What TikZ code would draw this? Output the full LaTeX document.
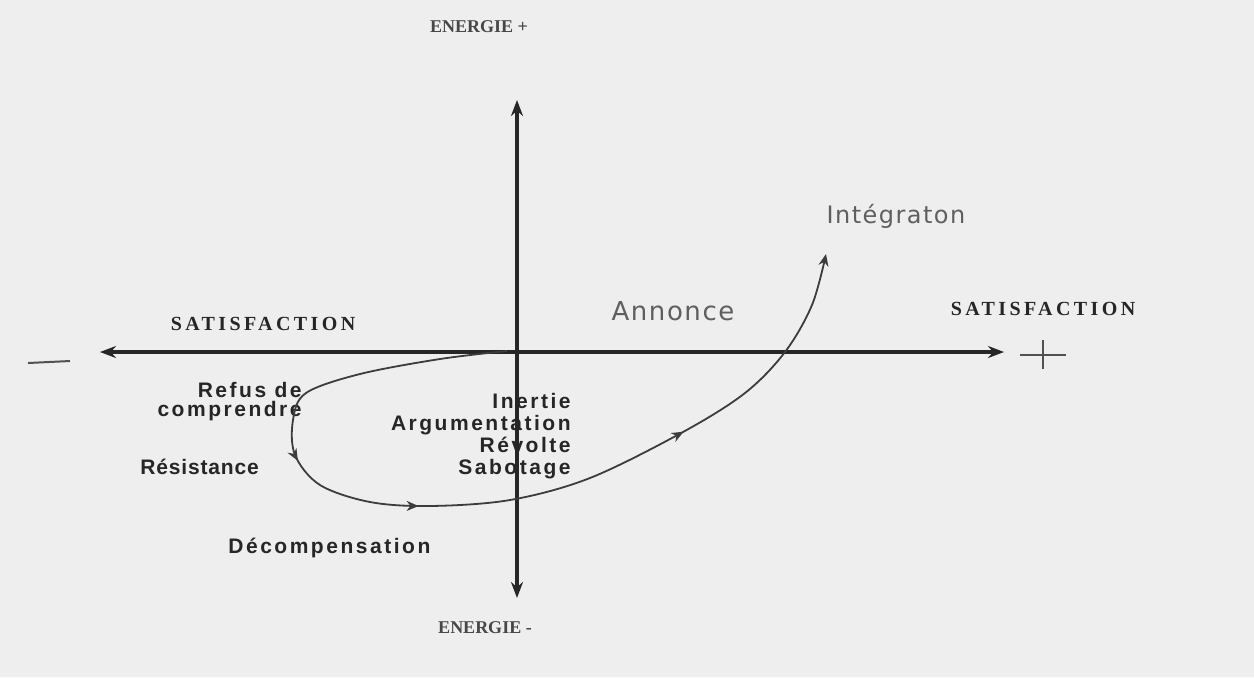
\documentclass[tikz,border=0pt]{standalone}
\usepackage{fontspec}
\setmainfont{Liberation Serif}
\newfontfamily\labfont[LetterSpace=12]{Liberation Sans}
\newfontfamily\resfont[LetterSpace=4]{Liberation Sans}
\newfontfamily\capsfont[LetterSpace=17]{Liberation Serif}
\newfontfamily\softfont[LetterSpace=6]{DejaVu Sans}
\usetikzlibrary{arrows.meta,decorations.markings}
\definecolor{paper}{RGB}{238,238,238}
\definecolor{ink}{RGB}{38,38,38}
\definecolor{faint}{RGB}{95,95,95}
\tikzset{
  axis/.style={line width=1.6pt,draw=ink,-{Stealth[length=8pt,width=6pt]}},
  capslabel/.style={font=\capsfont\bfseries\fontsize{10}{12}\selectfont,text=ink,inner sep=0pt},
  energylabel/.style={font=\bfseries\fontsize{9}{11}\selectfont,text=ink!85,inner sep=0pt},
  phase/.style={font=\labfont\bfseries\fontsize{10.5}{11}\selectfont,text=ink,inner sep=0pt},
  softlabel/.style={font=\softfont\fontsize{13}{15}\selectfont,text=faint,inner sep=0pt},
  tipmark/.style={-{Stealth[length=6pt,width=5pt]}},
  curvepath/.style={line width=0.9pt,draw=ink!90,
    postaction={decorate,decoration={markings,
      mark=at position 0.30 with {\arrow{Stealth[length=6pt,width=5pt]}},
      mark=at position 0.445 with {\arrow{Stealth[length=6pt,width=5pt]}},
      mark=at position 0.745 with {\arrow{Stealth[length=6pt,width=5pt]}}}}}
}
\begin{document}
\begin{tikzpicture}[x=0.5pt,y=-0.5pt]
  % sheet
  \fill[paper] (0,0) rectangle (1254,677);
  \useasboundingbox (0,0) rectangle (1254,677);

  % axis end points
  \coordinate (o) at (517,352);
  \coordinate (xl) at (100,352);
  \coordinate (xr) at (1004,352);
  \coordinate (yt) at (517,100);
  \coordinate (yb) at (517,598);

  % axes
  \draw[axis] (o) -- (xl);
  \draw[axis] (o) -- (xr);
  \draw[axis] (o) -- (yt);
  \draw[axis] (o) -- (yb);

  % axis titles
  \node[energylabel] (etop) at (479,27) {ENERGIE +};
  \node[energylabel] (ebot) at (485,628) {ENERGIE -};
  \node[capslabel] (satl) at (263,324) {SATISFACTION};
  \node[capslabel] (satr) at (1043,309) {SATISFACTION};

  % minus and plus signs at the ends of the horizontal axis
  \coordinate (m1) at (28,363);
  \coordinate (m2) at (70,361);
  \draw[line width=1pt,ink!80] (m1) -- (m2);
  \coordinate (p1) at (1020,355);
  \coordinate (p2) at (1066,355);
  \coordinate (p3) at (1043,340);
  \coordinate (p4) at (1043,369);
  \draw[line width=1pt,ink!80] (p1) -- (p2);
  \draw[line width=1pt,ink!80] (p3) -- (p4);

  % phases of the change curve
  \node[phase,font=\labfont\bfseries\fontsize{10.5}{9.5}\selectfont,
        align=right,anchor=east] (refus) at (302,402) {Refus de\\comprendre};
  \node[phase,font=\resfont\bfseries\fontsize{10.5}{11}\selectfont,anchor=west]
    (resist) at (140,467) {Résistance};
  \node[phase,align=right,anchor=east] (reac) at (571,436)
    {Inertie\\Argumentation\\Révolte\\Sabotage};
  \node[phase,anchor=west] (decomp) at (228,548) {Décompensation};
  \node[softlabel] (annonce) at (673,311) {Annonce};
  \node[softlabel,font=\softfont\fontsize{12}{14}\selectfont] (integ) at (896,216) {Intégraton};

  % the change curve, from the announcement to integration
  \coordinate (cend) at (826,254);
  \draw[curvepath,tipmark] plot[smooth,tension=0.55] coordinates {
    (507,351) (440,359) (360,374) (306,393) (293,420) (295,455)
    (320,485) (370,502) (430,506) (510,500) (590,478) (683,432)
    (745,393) (785,352) (812,305) (826,254)};
\end{tikzpicture}
\end{document}
